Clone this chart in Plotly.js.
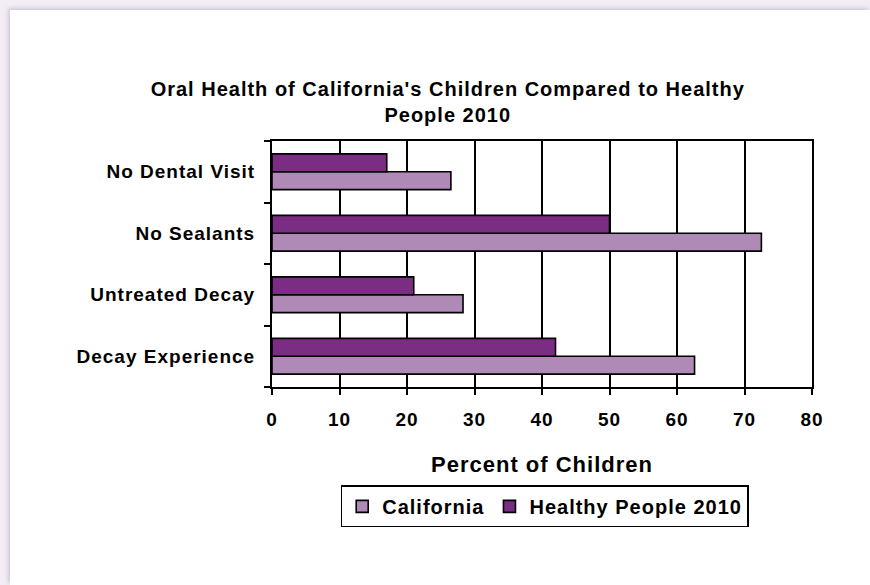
<!DOCTYPE html>
<html>
<head>
<meta charset="utf-8">
<script src="https://cdn.plot.ly/plotly-3.0.1.min.js"></script>
<style>
  html, body { margin: 0; padding: 0; width: 870px; height: 585px; overflow: hidden; background: #f3eef5; }
  #wrap { position: absolute; left: 10px; top: 10px; width: 860px; height: 575px; background: #ffffff; box-shadow: -2px -2px 4px rgba(180,160,190,0.5); }
  #chart { width: 860px; height: 575px; }
  svg text { letter-spacing: 1px; }
</style>
</head>
<body>
<div id="wrap"><div id="chart"></div></div>
<script>
// Categories listed bottom to top (Plotly draws the first category at the bottom)
const categories = ['Decay Experience', 'Untreated Decay', 'No Sealants', 'No Dental Visit'];
const californiaValues = [62.6, 28.3, 72.5, 26.5];
const healthyPeopleValues = [42, 21, 50, 17];
const xTickValues = [0, 10, 20, 30, 40, 50, 60, 70, 80];

const fontFamily = '"Liberation Sans", Arial, Helvetica, sans-serif';

const traces = [
  {
    type: 'bar', orientation: 'h', name: 'California',
    y: categories, x: californiaValues,
    marker: { color: '#b08ab6', line: { color: '#000000', width: 1.6 } },
    hoverinfo: 'x+y'
  },
  {
    type: 'bar', orientation: 'h', name: 'Healthy People 2010',
    y: categories, x: healthyPeopleValues,
    marker: { color: '#7b2c83', line: { color: '#000000', width: 1.6 } },
    hoverinfo: 'x+y'
  }
];

const layout = {
  width: 860, height: 575,
  paper_bgcolor: '#ffffff', plot_bgcolor: '#ffffff',
  margin: { l: 262, r: 58, t: 131, b: 198 },
  font: { family: fontFamily, color: '#000000', size: 19 },
  title: {
    text: "<b>Oral Health of California's Children Compared to Healthy<br>People 2010</b>",
    font: { family: fontFamily, size: 20, color: '#000000' },
    x: 0.509, xanchor: 'center', xref: 'container',
    y: 0.851, yanchor: 'middle', yref: 'container'
  },
  barmode: 'group', bargap: 0.42, bargroupgap: 0,
  showlegend: true,
  legend: {
    orientation: 'h', x: 0.505, xanchor: 'center', y: -0.4, yanchor: 'top',
    bordercolor: '#000000', borderwidth: 1.5, bgcolor: '#ffffff',
    font: { family: fontFamily, size: 20, color: '#000000', weight: 'bold' },
    traceorder: 'normal', itemwidth: 30
  },
  xaxis: {
    range: [0, 80], tickvals: xTickValues, ticktext: xTickValues.map(v => '<b>' + v + '</b>'),
    showgrid: true, gridcolor: '#000000', gridwidth: 2,
    showline: true, linecolor: '#000000', linewidth: 2, mirror: true,
    ticks: 'outside', ticklen: 6, tickwidth: 2, tickcolor: '#000000',
    ticklabelstandoff: 8,
    tickfont: { family: fontFamily, size: 19, color: '#000000' },
    zeroline: false, fixedrange: true,
    title: { text: '<b>Percent of Children</b>', font: { family: fontFamily, size: 22, color: '#000000' }, standoff: 28 }
  },
  yaxis: {
    type: 'category', categoryorder: 'array', categoryarray: categories,
    ticktext: categories.map(c => '<b>' + c + '</b>'), tickvals: categories,
    tickson: 'boundaries', ticks: 'outside', ticklen: 6, tickwidth: 2, tickcolor: '#000000',
    showline: true, linecolor: '#000000', linewidth: 2, mirror: true,
    showgrid: false, ticklabelstandoff: 11,
    tickfont: { family: fontFamily, size: 19, color: '#000000' },
    fixedrange: true
  }
};

Plotly.newPlot('chart', traces, layout, { displayModeBar: false, staticPlot: true });
</script>
</body>
</html>
